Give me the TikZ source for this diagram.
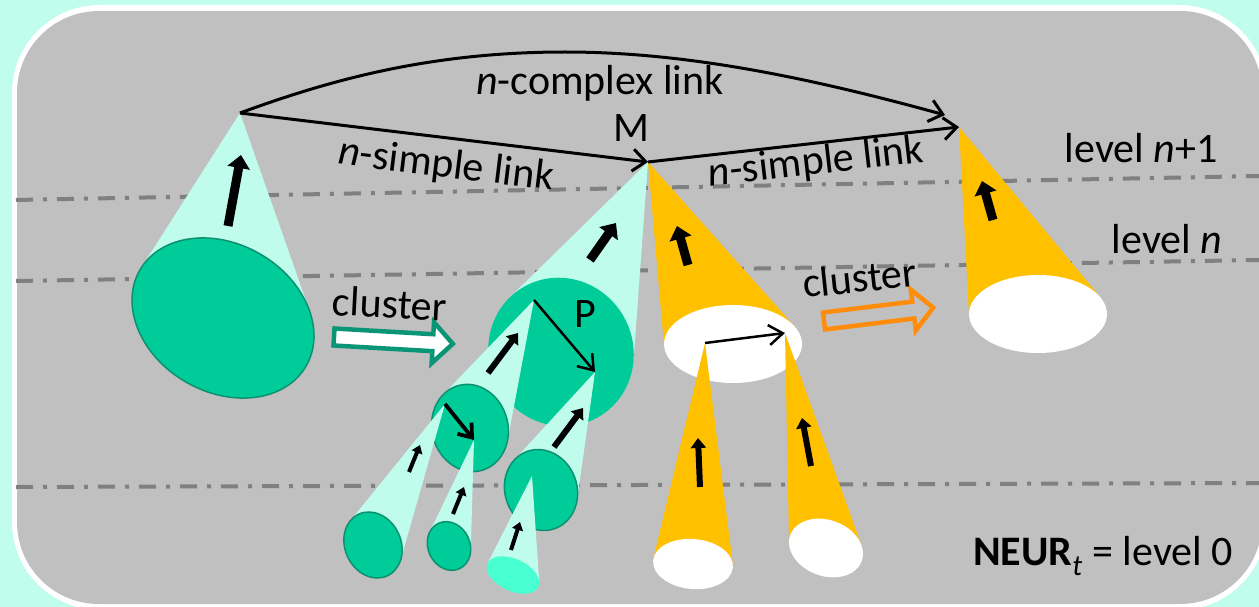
\documentclass[tikz,border=0pt]{standalone}
\usepackage{fontspec}
\setmainfont{Carlito}
\usetikzlibrary{arrows.meta}

\definecolor{mintbg}{RGB}{192,253,236}
\definecolor{panelgrey}{RGB}{192,192,192}
\definecolor{levelgrey}{RGB}{128,128,128}
\definecolor{conemint}{RGB}{192,252,235}
\definecolor{ballteal}{RGB}{0,204,153}
\definecolor{ballrim}{RGB}{12,145,112}
\definecolor{ballaqua}{RGB}{72,255,210}
\definecolor{coneyellow}{RGB}{255,192,0}
\definecolor{clusterorange}{RGB}{255,140,10}
\definecolor{clusterteal}{RGB}{10,150,118}

% Cone from an apex coordinate to a rotated ellipse:
% #1 apex, #2 #3 centre, #4 #5 radii, #6 rotation, #7 cone style, #8 ellipse style
\newcommand\conepart[8]{%
  \path (#1); \pgfgetlastxy{\cnAx}{\cnAy}%
  \pgfmathsetmacro\cnDx{\cnAx - (#2)}%
  \pgfmathsetmacro\cnDy{-(\cnAy) - (#3)}%
  \pgfmathsetmacro\cnU{(\cnDx*cos(#6) - \cnDy*sin(#6))/(#4)}%
  \pgfmathsetmacro\cnV{(\cnDx*sin(#6) + \cnDy*cos(#6))/(#5)}%
  \pgfmathsetmacro\cnAl{atan2(\cnV,\cnU)}%
  \pgfmathsetmacro\cnBe{acos(1/sqrt(\cnU*\cnU+\cnV*\cnV))}%
  \pgfmathsetmacro\cnPu{(#4)*cos(\cnAl+\cnBe)}%
  \pgfmathsetmacro\cnPv{(#5)*sin(\cnAl+\cnBe)}%
  \pgfmathsetmacro\cnQu{(#4)*cos(\cnAl-\cnBe)}%
  \pgfmathsetmacro\cnQv{(#5)*sin(\cnAl-\cnBe)}%
  \pgfmathsetmacro\cnPx{(#2) + \cnPu*cos(#6) + \cnPv*sin(#6)}%
  \pgfmathsetmacro\cnPy{(#3) - \cnPu*sin(#6) + \cnPv*cos(#6)}%
  \pgfmathsetmacro\cnQx{(#2) + \cnQu*cos(#6) + \cnQv*sin(#6)}%
  \pgfmathsetmacro\cnQy{(#3) - \cnQu*sin(#6) + \cnQv*cos(#6)}%
  \fill[#7] (#1) -- (\cnPx,\cnPy) -- (\cnQx,\cnQy) -- cycle;
  \path[#8, rotate around={#6:(#2,#3)}] (#2,#3) ellipse [x radius=#4, y radius=#5];
}

\begin{document}
\begin{tikzpicture}[x=1pt, y=-1pt,
  font=\fontsize{42}{50}\selectfont,
  levelline/.style={levelgrey, line width=4pt, dash pattern=on 17pt off 10pt on 4pt off 10pt},
  conemintfill/.style={fill=conemint},
  coneyellowfill/.style={fill=coneyellow},
  tealball/.style={fill=ballteal, draw=ballrim, line width=1.5pt},
  tealplain/.style={fill=ballteal},
  aquaball/.style={fill=ballaqua},
  whiteball/.style={fill=white},
  bigarr/.style={line width=9pt, -{Triangle[length=13pt,width=22pt]}},
  midarr/.style={line width=6pt, -{Triangle[length=10pt,width=15pt]}},
  smallarr/.style={line width=4pt, -{Triangle[length=8pt,width=11pt]}},
  link/.style={line width=3pt, -{Straight Barb[length=13pt,width=22pt,line width=3pt]}},
  innerlink/.style={line width=2.5pt, -{Straight Barb[length=14pt,width=20pt,line width=2.5pt]}},
  innerlinkthick/.style={line width=3.8pt, -{Straight Barb[length=12pt,width=18pt,line width=3.8pt]}},
  clusterarrow/.style={line width=4.5pt, line join=miter},
  lbl/.style={inner sep=0pt, anchor=base}]

\useasboundingbox (0,0) rectangle (1259,607);

% panel
\fill[mintbg] (0,0) rectangle (1259,607);
\fill[white, rounded corners=88pt] (12,5) rectangle (1267,610);
\fill[panelgrey, rounded corners=82pt] (17,11) rectangle (1262,604);

% level boundaries
\draw[levelline] (16,200) -- (1259,176);
\draw[levelline] (16,281) -- (1259,260);
\draw[levelline] (16,487) -- (1259,483);

% apex points
\coordinate (A1) at (240,113);
\coordinate (M) at (648,162);
\coordinate (N) at (959,127);
\coordinate (Nc) at (945,115);
\coordinate (p1) at (534,300);
\coordinate (p2) at (595,372);
\coordinate (c1) at (445,404);
\coordinate (c2) at (474,440);
\coordinate (c3) at (532,476);
\coordinate (w1) at (705,343);
\coordinate (w2) at (785,333);

% level n+1 unit on the left
\conepart{A1}{223}{318}{96}{74}{-30}{conemintfill}{tealball}
\draw[bigarr] (228,226) -- (241,155);

% unit P below M
\conepart{M}{561}{352}{75}{72}{-60}{conemintfill}{tealplain}
\draw[bigarr] (590,260) -- (616,223);

\conepart{p1}{470}{428}{44}{38}{-75}{conemintfill}{tealball}
\draw[midarr] (488,373) -- (518,333);

\conepart{p2}{541}{490}{41}{36}{-70}{conemintfill}{tealball}
\draw[midarr] (554,447) -- (583,408);

\draw[innerlink] (p1) -- (p2);

\conepart{c1}{373}{545}{34}{28}{-65}{conemintfill}{tealball}
\draw[smallarr] (409,472) -- (420,445);

\conepart{c2}{449}{546}{25}{21}{-65}{conemintfill}{tealball}
\draw[smallarr] (453,514) -- (464,487);

\draw[innerlinkthick] (c1) -- (c2);

\conepart{c3}{513}{575}{28}{16}{-25}{conemintfill}{aquaball}
\draw[smallarr] (511,550) -- (520,522);

% yellow units
\conepart{M}{733}{344}{69}{39}{0}{coneyellowfill}{whiteball}
\draw[bigarr] (688,265) -- (677,226);

\conepart{w1}{693}{564}{40}{25}{-5}{coneyellowfill}{whiteball}
\draw[midarr] (700,487) -- (698,438);

\conepart{w2}{826}{548}{38}{28}{-20}{coneyellowfill}{whiteball}
\draw[midarr] (811,466) -- (802,418);

\draw[innerlink] (w1) -- (w2);

\conepart{N}{1038}{314}{69}{39}{0}{coneyellowfill}{whiteball}
\draw[bigarr] (993,220) -- (982,181);

% links
\draw[link] (A1) -- (M);
\draw[link] (M) -- (N);
\draw[link] (A1) .. controls (330,80) and (430,52) .. (565,52)
                 .. controls (680,52) and (800,75) .. (Nc);

% cluster arrows
\begin{scope}[shift={(334,337)}, rotate=-3.3]
  \draw[clusterarrow, draw=clusterteal, fill=white]
    (0,-8.5) -- (99,-8.5) -- (99,-20.5) -- (119,0) -- (99,20.5) -- (99,8.5) -- (0,8.5) -- cycle;
\end{scope}
\begin{scope}[shift={(824,321)}, rotate=7]
  \draw[clusterarrow, draw=clusterorange]
    (0,-8.5) -- (90,-8.5) -- (90,-20.5) -- (110,0) -- (90,20.5) -- (90,8.5) -- (0,8.5) -- cycle;
\end{scope}

% labels
\node[lbl] (tcx) at (600,95) {\textit{n}-complex link};
\node[lbl] (tM) at (631,142) {M};
\node[lbl] (tP) at (585,327) {P};
\node[rotate=-7] (ts1) at (446,166) {\textit{n}-simple link};
\node[rotate=6.5] (ts2) at (816,163) {\textit{n}-simple link};
\node[lbl, rotate=-3] (tcl1) at (389,318) {cluster};
\node[lbl, rotate=6] (tcl2) at (861,292) {cluster};
\node[lbl] (tl1) at (1141,163) {level \textit{n}+1};
\node[lbl] (tl2) at (1167,253) {level \textit{n}};
\node[lbl] (tl0) at (1103,565) {\textbf{NEUR}\textsubscript{\textit{t}} = level 0};

\end{tikzpicture}
\end{document}
